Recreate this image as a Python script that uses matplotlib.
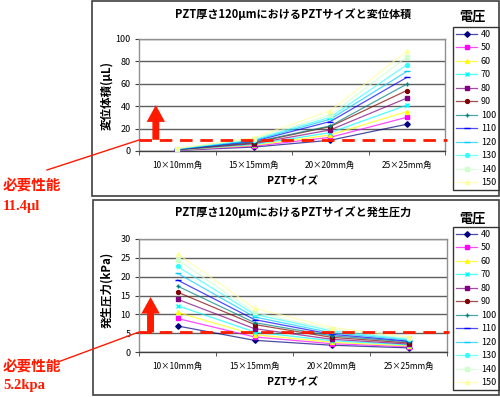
import matplotlib
matplotlib.use("Agg")
import matplotlib.pyplot as plt
from matplotlib.lines import Line2D
from matplotlib.patches import Rectangle, FancyArrow
import matplotlib.colors as mcolors

plt.rcParams['font.family'] = ['Noto Sans CJK JP', 'DejaVu Sans']

sizes = ['10×10mm角', '15×15mm角', '20×20mm角', '25×25mm角']
voltages = [40, 50, 60, 70, 80, 90, 100, 110, 120, 130, 140, 150]

volume_10 = [0.6, 0.8, 0.9, 1.0, 1.2, 1.4, 1.5, 1.7, 1.8, 2.0, 2.2, 2.4]
volume_15 = [3.5, 4.3, 5.0, 5.8, 6.5, 7.3, 7.9, 8.7, 9.4, 10.1, 10.9, 11.8]
volume_20 = [9.6, 12.2, 14.3, 16.4, 18.8, 21.8, 22.4, 26.3, 28.4, 30.1, 32.2, 36.0]
volume_25 = [23.9, 30.1, 35.2, 40.9, 47.2, 54.0, 59.7, 65.7, 71.0, 77.0, 83.9, 89.0]

press_10 = [6.9, 8.9, 10.5, 12.3, 14.0, 15.9, 17.5, 19.1, 20.9, 22.7, 24.5, 26.1]
press_15 = [3.1, 4.0, 4.6, 5.3, 6.2, 7.3, 7.8, 8.6, 9.3, 10.0, 10.5, 11.6]
press_20 = [1.8, 2.2, 2.6, 3.0, 3.4, 3.9, 4.3, 4.7, 5.1, 5.6, 6.0, 6.5]
press_25 = [1.1, 1.4, 1.6, 1.9, 2.1, 2.4, 2.7, 2.9, 3.2, 3.4, 3.7, 4.0]

required_volume = 10.0
required_press = 5.2

colors = ['#000080', '#FF00FF', '#FFFF00', '#00FFFF', '#800080', '#800000',
          '#008080', '#0000FF', '#00CCFF', '#33FFFF', '#CCFFCC', '#FFFF99']
markers = ['D', 's', '^', 'x', 's', 'o', '+', '_', '_', 'o', 's', '^']

W, H = 500, 397
fig = plt.figure(figsize=(W / 100, H / 100), dpi=100)
fig.patch.set_facecolor('white')


def fx(x):
    return x / W


def fy(y):
    return 1 - y / H


def box(l, t, r, b):
    return [fx(l), fy(b), (r - l) / W, (b - t) / H]


RED = '#FF1A00'

# outer frames
for (l, t, r, b) in [(92, 1, 499, 196), (93, 200, 499, 395)]:
    fig.patches.append(Rectangle((fx(l), fy(b)), (r - l) / W, (b - t) / H,
                                 transform=fig.transFigure, fill=False,
                                 edgecolor='#404040', linewidth=1.2))


def make_chart(axbox, series, ymax, ystep, title, ylabel, req, arrow_x,
               arrow_top, head_len, leg_top, leg_title_y, title_y, xl_y, xlabel_y,
               ylabel_y, line_start, text_y1, text_y2, text2):
    ax = fig.add_axes(box(*axbox))
    xs = list(range(len(sizes)))
    handles = []
    for i, v in enumerate(voltages):
        vals = [s[i] for s in series]
        lc = mcolors.to_rgba(colors[i], 0.7)
        ms = 2.8
        if markers[i] in ('x', '+'):
            ms = 3.4
        if markers[i] == '_':
            ms = 4.0
        ln, = ax.plot(xs, vals, color=lc, linewidth=0.9, marker=markers[i],
                      markersize=ms, markerfacecolor=colors[i],
                      markeredgecolor=colors[i], markeredgewidth=1.0,
                      label=str(v), zorder=3)
        handles.append(ln)
    ax.set_xlim(-0.5, len(sizes) - 0.5)
    ax.set_ylim(0, ymax)
    ax.set_yticks(range(0, ymax + 1, ystep))
    ax.set_xticks(xs)
    ax.set_xticklabels(sizes, fontsize=6)
    ax.set_xticks([x + 0.5 for x in range(-1, len(sizes))], minor=True)
    ax.tick_params(axis='x', which='major', length=0, pad=7)
    ax.tick_params(axis='x', which='minor', length=3, direction='out', color='#404040')
    ax.tick_params(axis='y', length=3, direction='out', labelsize=6.5, pad=3, color='#404040')
    ax.grid(axis='y', color='#606060', linewidth=1.0)
    ax.set_axisbelow(True)
    for sp in ['left', 'right', 'top']:
        ax.spines[sp].set_color('#909090')
        ax.spines[sp].set_linewidth(1.0)
    ax.spines['bottom'].set_color('#404040')
    ax.spines['bottom'].set_linewidth(1.0)

    # required performance line
    ax.plot([-0.5, len(sizes) - 0.48], [req, req], color=RED, linewidth=2.0,
            linestyle=(0, (4.5, 2.8)), clip_on=False, zorder=5)
    # arrow
    ax.add_patch(FancyArrow(arrow_x, req, 0, arrow_top - req, width=0.09,
                            head_width=0.24, head_length=head_len,
                            length_includes_head=True, color=RED, zorder=6,
                            linewidth=0))

    leg = ax.legend(handles=handles, loc='upper left',
                    bbox_to_anchor=(fx(453), fy(leg_top)),
                    bbox_transform=fig.transFigure, frameon=True,
                    fancybox=False, edgecolor='#333333', fontsize=6.5,
                    handlelength=2.4, handletextpad=0.4, labelspacing=0.5,
                    borderaxespad=0, borderpad=0.3, framealpha=1)
    leg.get_frame().set_linewidth(1.0)

    fig.text(fx(472), fy(leg_title_y), '電圧', fontsize=9.5, fontweight='bold',
             ha='center', va='center')
    fig.text(fx(293), fy(title_y), title, fontsize=8, fontweight='bold',
             ha='center', va='center')
    fig.text(fx(293), fy(xlabel_y), 'PZTサイズ', fontsize=7.5, fontweight='bold',
             ha='center', va='center')
    fig.text(fx(107), fy(ylabel_y), ylabel, fontsize=8.3, fontweight='bold',
             ha='center', va='center', rotation=90)

    # annotation
    fig.lines.append(Line2D([fx(line_start[0]), fx(139)],
                            [fy(line_start[1]), fy(line_start[2])],
                            transform=fig.transFigure, color=RED, linewidth=1.0))
    fig.text(fx(3), fy(text_y1), '必要性能', fontsize=10.5, fontweight='bold',
             color=RED, ha='left', va='center')
    fig.text(fx(3), fy(text_y2), text2, fontsize=10.5, fontweight='bold',
             color=RED, ha='left', va='center', family='Liberation Serif')
    return ax


make_chart((139, 39, 445, 151), [volume_10, volume_15, volume_20, volume_25],
           100, 20, 'PZT厚さ120μmにおけるPZTサイズと変位体積', '変位体積(μL)',
           required_volume, -0.28, 41, 15, 27, 17, 15, 166, 180, 96,
           (47, 170, 140), 186, 206, '11.4μl')

make_chart((139, 239, 447, 352), [press_10, press_15, press_20, press_25],
           30, 5, 'PZT厚さ120μmにおけるPZTサイズと発生圧力', '発生圧力(kPa)',
           required_press, -0.35, 14.6, 4.4, 227, 219, 213, 367, 381, 290,
           (58, 362, 332), 367, 386, '5.2kpa')

fig.savefig('out.png', dpi=100)
